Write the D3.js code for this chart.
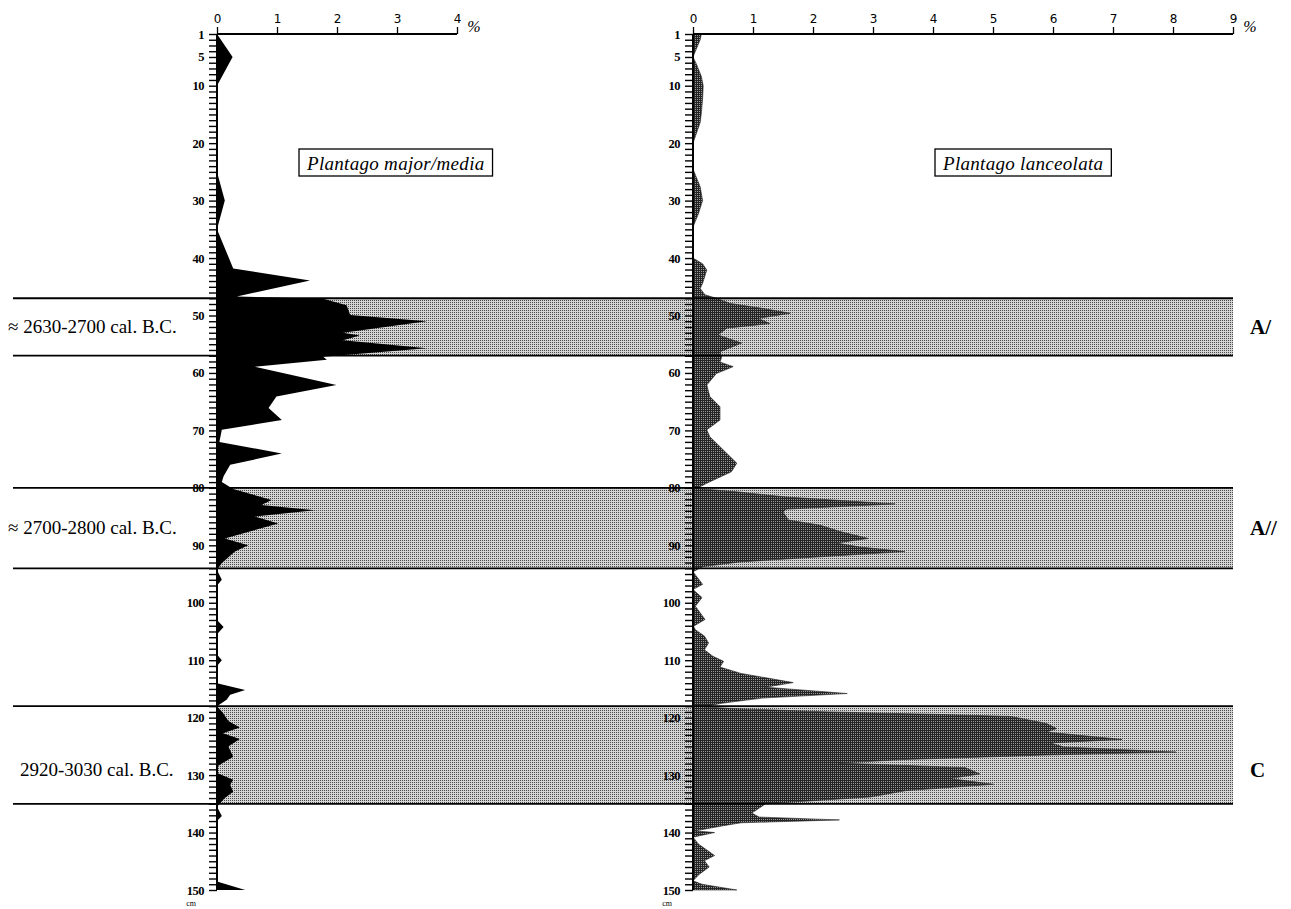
<!DOCTYPE html>
<html>
<head>
<meta charset="utf-8">
<script src="https://cdn.jsdelivr.net/npm/d3@7"></script>
<style>
  body { margin: 0; background: #fff; }
  svg { display: block; }
</style>
</head>
<body>
<svg width="1291" height="909"></svg>
<script>
// depth ticks (cm) and percent ticks
const depthLabels = [1, 5, 10, 20, 30, 40, 50, 60, 70, 80, 90, 100, 110, 120, 130, 140, 150];
const majorTicks = [0, 1, 2, 3, 4];
const lancTicks = [0, 1, 2, 3, 4, 5, 6, 7, 8, 9];

// Plantago major/media : depth (cm) / percent
const majorDepth = [1, 5, 10, 25, 30, 35, 41.8, 43.9, 46.7, 47.1, 48.2, 49.9, 51, 53, 53.5, 54.3, 55.7,
  57.2, 57.7, 58.9, 62.1, 64.1, 66.1, 68.2, 69.9, 72, 74, 76, 78, 79, 80.2, 82.1, 83, 83.9, 85, 86.2,
  88.8, 90, 91.1, 93.1, 94.3, 96, 97, 103, 104.2, 105.5, 109, 110, 111, 114, 115.2, 116, 116.9, 118,
  119.2, 120.6, 121.7, 122.7, 123.7, 125, 126.8, 128.5, 129.7, 130.8, 131.7, 132.9, 134, 135.5, 137.1,
  138, 148.5, 150];
const majorValue = [0, 0.26, 0, 0, 0.13, 0, 0.27, 1.55, 0.33, 1.77, 2.16, 2.22, 3.5, 2.1, 2.38, 2.1, 3.5,
  1.77, 1.83, 0.63, 1.99, 0.99, 0.86, 1.08, 0.08, 0.04, 1.08, 0.22, 0.11, 0.08, 0.27, 0.91, 0.74, 1.63, 0.63, 1.02,
  0.13, 0.52, 0.3, 0.08, 0, 0.08, 0, 0, 0.11, 0, 0, 0.08, 0, 0, 0.47, 0.22, 0.16, 0,
  0.1, 0.19, 0.38, 0.1, 0.38, 0.19, 0.27, 0, 0.02, 0.27, 0.22, 0.27, 0.13, 0, 0.08,
  0, 0, 0.47];

// Plantago lanceolata : depth (cm) / percent
const lancDepth = [1, 2, 5, 6.3, 8.4, 10, 12.3, 14.7, 16.4, 20, 24.5, 27.6, 30, 32.3, 34.6, 40, 41, 42.1,
  44.4, 45.3, 46.4, 47, 47.9, 48.7, 49.6, 50.5, 51.4, 52.2, 53.4, 54.8, 56.3, 57.2, 58.1, 58.9, 60.1,
  62.1, 64.1, 65.9, 68.2, 69.9, 71.1, 75.7, 77.2, 79.2, 80.1, 80.7, 81.6, 82.8, 83.7, 84.2, 85.6, 86.5,
  87.6, 88.8, 89.6, 90.3, 91.1, 92, 92.9, 93.7, 94.6, 96.8, 97.7, 99.1, 100.6, 102.9, 104.1, 104.7,
  105.8, 107, 108.2, 109.3, 110.2, 111.2, 112.3, 113.9, 114.7, 115.8, 116.6, 117.5, 118.1, 118.4, 119,
  119.5, 119.8, 121, 121.9, 122.5, 123.8, 124.4, 125.1, 126, 126.5, 127.3, 127.9, 128.7, 129.8, 130.6,
  131.6, 132.7, 133.8, 135, 136.6, 137.3, 137.8, 138.3, 138.8, 139.7, 140, 140.8, 142, 144, 144.9,
  146, 147.3, 148.4, 149, 150];
const lancValue = [0.14, 0.12, 0, 0.06, 0.14, 0.17, 0.16, 0.14, 0.12, 0, 0, 0.12, 0.16, 0.09, 0, 0, 0.16, 0.23,
  0.16, 0.12, 0.2, 0.39, 0.62, 1.12, 1.62, 1.09, 1.28, 0.56, 0.42, 0.81, 0.45, 0.48, 0.45, 0.67, 0.39,
  0.23, 0.28, 0.45, 0.45, 0.23, 0.28, 0.73, 0.64, 0.23, 0.06, 0.73, 1.56, 3.37, 1.56, 1.5, 1.59, 2.12,
  2.45, 2.92, 2.39, 2.78, 3.53, 2.12, 0.78, 0.17, 0, 0.16, 0, 0.15, 0.04, 0.2, 0.01, 0.04,
  0.19, 0.26, 0.19, 0.33, 0.51, 0.45, 0.8, 1.67, 1.21, 2.57, 1.15, 0.48, 0.19, 0.63, 2.26,
  4.31, 5.3, 5.89, 6.06, 5.89, 7.15, 5.95, 6.18, 8.05, 5.89, 3.5, 2.44, 4.54, 4.78, 4.28,
  5.01, 3.55, 2.96, 1.21, 0.98, 1.1, 2.44, 0.8, 0.51, 0.04, 0.36, 0, 0.09, 0.36, 0.19,
  0.27, 0.1, 0, 0.15, 0.73];

// dated zones
const bandTop = [47, 80, 118];
const bandBottom = [57, 94, 135];
const bandDates = ['\u2248 2630-2700 cal. B.C.', '\u2248 2700-2800 cal. B.C.', '2920-3030 cal. B.C.'];
const bandCodes = ['A/', 'A//', 'C'];

const prepareSvg = () => {
  const svg = d3.select('svg');
  const defs = svg.append('defs');
  // light stipple for the zones
  const band = defs.append('pattern')
    .attr('id', 'bandDots')
    .attr('width', 2).attr('height', 2)
    .attr('patternUnits', 'userSpaceOnUse');
  band.append('rect').attr('width', 2).attr('height', 2).attr('fill', '#d4d4d4');
  band.append('rect').attr('width', 1).attr('height', 1).attr('fill', '#4a4a4a');
  // dark stipple for the lanceolata curve
  const dark = defs.append('pattern')
    .attr('id', 'darkDots')
    .attr('width', 2).attr('height', 2)
    .attr('patternUnits', 'userSpaceOnUse');
  dark.append('rect').attr('width', 2).attr('height', 2).attr('fill', '#242424');
  dark.append('rect').attr('x', 1).attr('y', 1).attr('width', 1).attr('height', 1).attr('fill', '#9a9a9a');
  return svg;
};

const renderChart = () => {
  const svg = prepareSvg();
  const yScale = d3.scaleLinear().domain([1, 150]).range([34, 890]);
  const xMajor = d3.scaleLinear().domain([0, 4]).range([217, 457]);
  const xLanc = d3.scaleLinear().domain([0, 9]).range([693, 1233]);
  const serif = 'Liberation Serif, Times New Roman, serif';

  // zone shading
  svg.append('g')
    .selectAll('rect')
    .data(bandTop)
    .enter()
    .append('rect')
      .attr('x', xMajor(0))
      .attr('y', d => yScale(d))
      .attr('width', xLanc(9) - xMajor(0))
      .attr('height', (d, i) => yScale(bandBottom[i]) - yScale(d))
      .attr('fill', 'url(#bandDots)');

  // curves
  const profile = (xScale, depths) => d3.area()
    .x0(xScale(0))
    .x1(d => xScale(d))
    .y((d, i) => yScale(depths[i]));

  svg.append('path')
    .datum(majorValue)
    .attr('d', profile(xMajor, majorDepth))
    .attr('fill', '#000');
  svg.append('path')
    .datum(lancValue)
    .attr('d', profile(xLanc, lancDepth))
    .attr('fill', 'url(#darkDots)')
    .attr('stroke', '#222')
    .attr('stroke-width', 0.6);

  // zone boundaries
  const lines = svg.append('g');
  bandTop.concat(bandBottom).forEach(d => {
    lines.append('line')
      .attr('x1', 13).attr('x2', xLanc(9))
      .attr('y1', yScale(d)).attr('y2', yScale(d))
      .attr('stroke', '#000')
      .attr('stroke-width', 1.8);
  });

  // depth axes
  const depthAxis = d3.axisLeft(yScale)
    .tickValues(d3.range(1, 151))
    .tickSize(8)
    .tickPadding(5)
    .tickFormat(d => depthLabels.includes(d) ? d : '');
  [xMajor, xLanc].forEach(xs => {
    const g = svg.append('g')
      .attr('transform', `translate(${xs(0)}, 0)`)
      .call(depthAxis);
    g.select('.domain').attr('stroke-width', 2).attr('d', `M0,${yScale(1)}V${yScale(150)}`);
    g.selectAll('.tick line').attr('stroke-width', 1.4);
    g.selectAll('.tick text')
      .attr('font-family', serif)
      .attr('font-weight', 'bold')
      .attr('font-size', 12.5)
      .attr('letter-spacing', -0.5);
    g.append('text')
      .attr('x', -21).attr('y', 906)
      .attr('font-family', serif)
      .attr('font-size', 8)
      .attr('fill', '#000')
      .text('cm');
  });

  // percent axes
  [[xMajor, majorTicks], [xLanc, lancTicks]].forEach(([xs, ticks]) => {
    const g = svg.append('g')
      .attr('transform', `translate(0, ${yScale(1)})`)
      .call(d3.axisTop(xs).tickValues(ticks).tickSize(7).tickPadding(4).tickFormat(d3.format('d')));
    g.select('.domain').attr('stroke-width', 1.8).attr('d', `M${xs.range()[0]},0H${xs.range()[1]}`);
    g.selectAll('.tick line').attr('stroke-width', 1.3);
    g.selectAll('.tick text')
      .attr('font-family', 'DejaVu Sans, sans-serif')
      .attr('font-size', 12);
    g.append('text')
      .attr('x', xs.range()[1] + 17).attr('y', -2)
      .attr('font-family', serif)
      .attr('font-style', 'italic')
      .attr('font-size', 16)
      .attr('fill', '#000')
      .text('%');
  });

  // taxon titles in boxes
  const titles = [['Plantago major/media', 299], ['Plantago lanceolata', 935]];
  titles.forEach(([name, x]) => {
    const g = svg.append('g').attr('transform', `translate(${x}, 149)`);
    const t = g.append('text')
      .attr('x', 8).attr('y', 21)
      .attr('font-family', serif)
      .attr('font-style', 'italic')
      .attr('font-size', 19)
      .attr('letter-spacing', 0.3)
      .text(name);
    const w = t.node().getComputedTextLength() + 16;
    g.insert('rect', 'text')
      .attr('width', w).attr('height', 27)
      .attr('fill', '#fff')
      .attr('stroke', '#000')
      .attr('stroke-width', 1.3);
  });

  // zone labels
  const dateOffsets = [8, 8, 20];
  const labelShift = [6, 6, 21];
  bandDates.forEach((label, i) => {
    svg.append('text')
      .attr('x', dateOffsets[i])
      .attr('y', (yScale(bandTop[i]) + yScale(bandBottom[i])) / 2 + labelShift[i])
      .attr('font-family', serif)
      .attr('font-size', 19)
      .text(label);
  });
  bandCodes.forEach((label, i) => {
    svg.append('text')
      .attr('x', 1250)
      .attr('y', (yScale(bandTop[i]) + yScale(bandBottom[i])) / 2 + labelShift[i] + 1)
      .attr('font-family', serif)
      .attr('font-weight', 'bold')
      .attr('font-size', 21)
      .text(label);
  });
};

renderChart();
</script>
</body>
</html>
